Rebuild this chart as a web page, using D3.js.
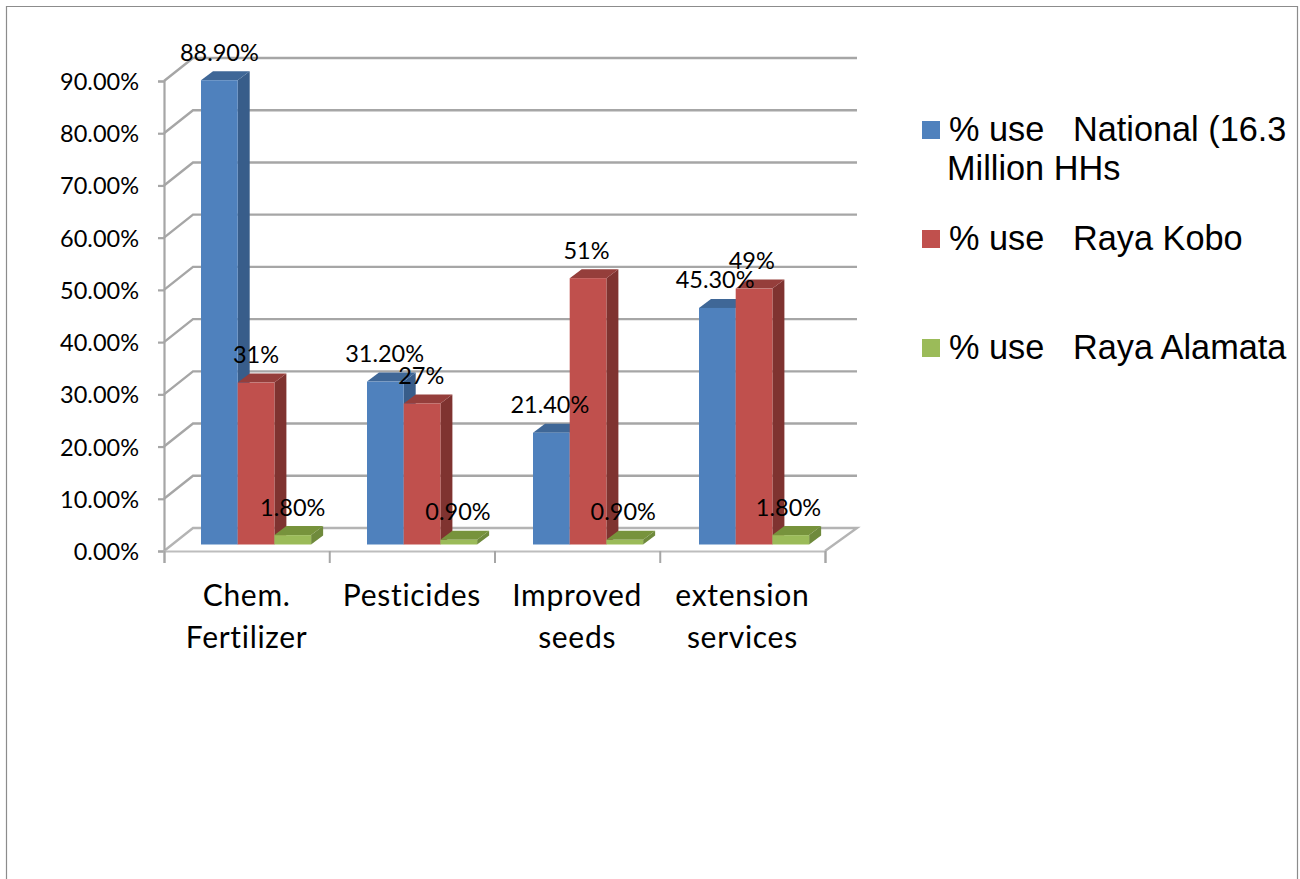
<!DOCTYPE html>
<html>
<head>
<meta charset="utf-8">
<script src="https://cdn.jsdelivr.net/npm/d3@7/dist/d3.min.js"></script>
<style>
  html, body { margin: 0; padding: 0; background: #fff; }
  svg { display: block; }
  text { fill: #000; }
  .lab { font-family: Lato, "Open Sans", sans-serif; font-size: 23.5px; }
  .cat { font-family: Lato, "Open Sans", sans-serif; font-size: 30px; letter-spacing: 0.7px; }
  .leg { font-family: "Liberation Sans", Arial, sans-serif; font-size: 34.3px; white-space: pre; }
</style>
</head>
<body>
<svg id="chart" width="1300" height="879"></svg>
<script>
// Values (percent of households using each input)
const categories = [["Chem.", "Fertilizer"], ["Pesticides"], ["Improved", "seeds"], ["extension", "services"]];
const seriesNames = ["% use   National (16.3|Million HHs", "% use   Raya Kobo", "% use   Raya Alamata"];
const national = [88.9, 31.2, 21.4, 45.3];
const rayaKobo = [31, 27, 51, 49];
const rayaAlamata = [1.8, 0.9, 0.9, 1.8];
const nationalLabels = ["88.90%", "31.20%", "21.40%", "45.30%"];
const rayaKoboLabels = ["31%", "27%", "51%", "49%"];
const rayaAlamataLabels = ["1.80%", "0.90%", "0.90%", "1.80%"];
const yTicks = [0, 10, 20, 30, 40, 50, 60, 70, 80, 90];

// Series styling: front, side and top faces of each 3D bar
const palette = [
  { front: "#4f81bd", side: "#385d8a", top: "#3f6797" },
  { front: "#c0504d", side: "#7f3330", top: "#953e3b" },
  { front: "#9bbb59", side: "#6f8a3c", top: "#77933c" }
];

// Plot geometry
const svg = d3.select("#chart");
const floorY = 551, topY = 81, leftX = 164, rightX = 825;
const wallDX = 29, wallDY = -23;   // depth of the chart box
const barDX = 12, barDY = -9;      // depth of a bar
const barBaseY = 544.5;            // bars stand slightly inside the floor
const gridColor = "#a6a6a6";

const y = d3.scaleLinear().domain([0, 90]).range([floorY, topY]);
const x0 = d3.scaleBand().domain(d3.range(categories.length)).range([leftX, rightX]);
const xBars = d3.scaleBand().domain(d3.range(categories.length)).range([leftX, leftX + 664]);
const barW = 36.7, groupInset = 37;
const barH = v => y(0) - y(v);

// Page frame
svg.append("path").attr("d", "M6.5,879V6.5H1297.5V879").attr("fill", "none")
  .attr("stroke", "#8c8c8c").attr("stroke-width", 1.2);

// Walls: gridlines on the back wall with their diagonals down the side wall
const grid = svg.append("g").attr("fill", "none").attr("stroke", gridColor).attr("stroke-width", 2.4);
yTicks.forEach(t => {
  if (t === 0) return;
  grid.append("path").attr("d", d3.line()([
    [leftX, y(t)], [leftX + wallDX, y(t) + wallDY], [rightX + wallDX + 3, y(t) + wallDY]
  ]));
});

// Floor outline
grid.append("path").attr("stroke", "#b4b4b4").attr("d", d3.line()([
  [leftX, floorY], [leftX + wallDX, floorY + wallDY], [rightX + wallDX + 3, floorY + wallDY], [rightX, floorY]
]));

// Axes
const yAxis = d3.axisLeft(y).tickValues(yTicks).tickSize(6).tickPadding(19)
  .tickFormat(d => d.toFixed(2) + "%");
const yG = svg.append("g").attr("transform", `translate(${leftX},0)`).call(yAxis);
yG.selectAll("text").attr("class", "lab").attr("dy", "0.36em");
yG.selectAll("path,line").attr("stroke", gridColor).attr("stroke-width", 2.2);

const xScale = d3.scaleLinear().domain([0, categories.length]).range([leftX, rightX]);
const xG = svg.append("g").attr("transform", `translate(0,${floorY})`)
  .call(d3.axisBottom(xScale).tickValues(d3.range(categories.length + 1)).tickSize(12).tickFormat(""));
xG.selectAll("path").attr("stroke", "#bdbdbd").attr("stroke-width", 2.2);
xG.selectAll("line").attr("stroke", gridColor).attr("stroke-width", 2);

// Category labels
const catG = svg.append("g");
categories.forEach((lines, i) => {
  const t = catG.append("text").attr("class", "cat").attr("text-anchor", "middle");
  lines.forEach((s, j) => {
    t.append("tspan").attr("x", x0(i) + x0.bandwidth() / 2).attr("y", 606 + j * 42).text(s);
  });
});

// Bars, drawn series by series so each overlaps the previous side face
const series = [national, rayaKobo, rayaAlamata];
const seriesLabels = [nationalLabels, rayaKoboLabels, rayaAlamataLabels];
const bars = svg.append("g");
categories.forEach((_, i) => {
  series.forEach((vals, s) => {
    const c = palette[s];
    const bx = xBars(i) + groupInset + s * barW;
    const top = barBaseY - barH(vals[i]);
    const g = bars.append("g");
    g.append("path").attr("fill", c.side).attr("d", d3.line()([
      [bx + barW, top], [bx + barW + barDX, top + barDY],
      [bx + barW + barDX, barBaseY + barDY], [bx + barW, barBaseY]
    ]));
    g.append("path").attr("fill", c.top).attr("d", d3.line()([
      [bx, top], [bx + barDX, top + barDY], [bx + barW + barDX, top + barDY], [bx + barW, top]
    ]));
    g.append("rect").attr("x", bx).attr("y", top).attr("width", barW)
      .attr("height", barBaseY - top).attr("fill", c.front);
  });
});

// Data labels sit above everything else
const labels = svg.append("g");
categories.forEach((_, i) => {
  series.forEach((vals, s) => {
    const bx = x0(i) + groupInset + s * barW;
    labels.append("text").attr("class", "lab").attr("text-anchor", "middle")
      .attr("x", bx + barW / 2)
      .attr("y", barBaseY - barH(vals[i]) - 19.5)
      .text(seriesLabels[s][i]);
  });
});

// Legend
const legendRows = [130, 239, 348];
const legend = svg.append("g");
seriesNames.forEach((name, s) => {
  const cy = legendRows[s];
  legend.append("rect").attr("x", 922).attr("y", cy - 9).attr("width", 18).attr("height", 18)
    .attr("fill", palette[s].front);
  const parts = name.split("|");
  legend.append("text").attr("class", "leg").attr("x", 949).attr("y", cy + 11).text(parts[0]);
  if (parts[1]) legend.append("text").attr("class", "leg").attr("x", 947).attr("y", cy + 50).text(parts[1]);
});
</script>
</body>
</html>
